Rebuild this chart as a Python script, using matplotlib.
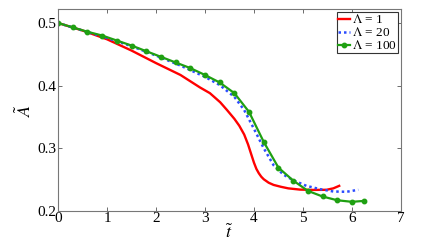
import matplotlib

matplotlib.use("Agg")
import matplotlib.pyplot as plt

plt.rcParams["font.family"] = ["Liberation Serif", "DejaVu Serif"]
plt.rcParams["mathtext.fontset"] = "stix"

# Lambda = 1
t_red = [0.0, 0.5, 1.0, 1.5, 2.0, 2.5, 2.9, 3.1, 3.31, 3.45, 3.6, 3.7, 3.8,
         3.88, 3.95, 4.0, 4.05, 4.1, 4.15, 4.2, 4.3, 4.4, 4.55, 4.7, 4.94,
         5.2, 5.48, 5.62, 5.74]
a_red = [0.500, 0.488, 0.474, 0.456, 0.436, 0.417, 0.397, 0.388, 0.3735, 0.361,
         0.347, 0.336, 0.322, 0.306, 0.289, 0.277, 0.267, 0.260, 0.2545, 0.2505,
         0.245, 0.2415, 0.2385, 0.236, 0.234, 0.2335, 0.2337, 0.236, 0.240]

# Lambda = 20
t_blue = [0.0, 0.5, 1.0, 1.5, 2.0, 2.5, 3.0, 3.3, 3.6, 3.8, 4.0, 4.2, 4.4,
          4.6, 4.8, 5.07, 5.35, 5.62, 5.89, 6.13]
a_blue = [0.500, 0.488, 0.476, 0.463, 0.448, 0.432, 0.414, 0.401, 0.382, 0.361,
          0.331, 0.300, 0.273, 0.258, 0.249, 0.240, 0.2347, 0.231, 0.2305,
          0.2337]

# Lambda = 100 (markers every 0.3)
t_green = [0.0, 0.3, 0.6, 0.9, 1.2, 1.5, 1.8, 2.1, 2.4, 2.7, 3.0, 3.3, 3.6,
           3.9, 4.2, 4.5, 4.8, 5.1, 5.4, 5.7, 6.0, 6.25]
a_green = [0.500, 0.493, 0.486, 0.480, 0.472, 0.464, 0.455, 0.446, 0.437, 0.428,
           0.417, 0.405, 0.388, 0.358, 0.310, 0.269, 0.2485, 0.232, 0.223, 0.217,
           0.2145, 0.216]

x_ticks = [0, 1, 2, 3, 4, 5, 6, 7]
y_ticks = [0.2, 0.3, 0.4, 0.5]

fig = plt.figure(figsize=(4.43, 2.49), dpi=100)
ax = fig.add_axes([0.131, 0.153, 0.774, 0.810])

ax.plot(t_red, a_red, color="#ff0000", lw=1.7, label=r"$\Lambda$ = 1")
ax.plot(t_blue, a_blue, color="#2b4cff", lw=1.8, ls=(0, (1, 1.2)),
        label=r"$\Lambda$ = 20")
ax.plot(t_green, a_green, color="#1fa012", lw=1.6, marker="o", ms=3.2,
        label=r"$\Lambda$ = 100")

ax.set_xlim(0, 7)
ax.set_ylim(0.2, 0.522)
ax.set_xticks(x_ticks)
ax.set_yticks(y_ticks)
ax.set_xticklabels([str(v) for v in x_ticks])
ax.set_yticklabels(["0.2", "0.3", "0.4", "0.5"])
ax.tick_params(direction="in", top=True, right=True, length=3, width=0.6,
               color="#555555", labelsize=11, pad=1)
for s in ax.spines.values():
    s.set_color("#777777")
    s.set_linewidth(0.8)

ax.set_xlabel(r"$\tilde{t}$", fontsize=13, labelpad=-1)
ax.set_ylabel(r"$\tilde{A}$", fontsize=13, labelpad=2)

leg = ax.legend(loc="upper right", fontsize=9.5, handlelength=0.9,
                handletextpad=0.15, borderpad=0.1, labelspacing=0.0,
                borderaxespad=0.2, fancybox=False, framealpha=1)
leg.get_frame().set_edgecolor("#333333")
leg.get_frame().set_linewidth(0.8)

fig.savefig("out.png", dpi=100)
